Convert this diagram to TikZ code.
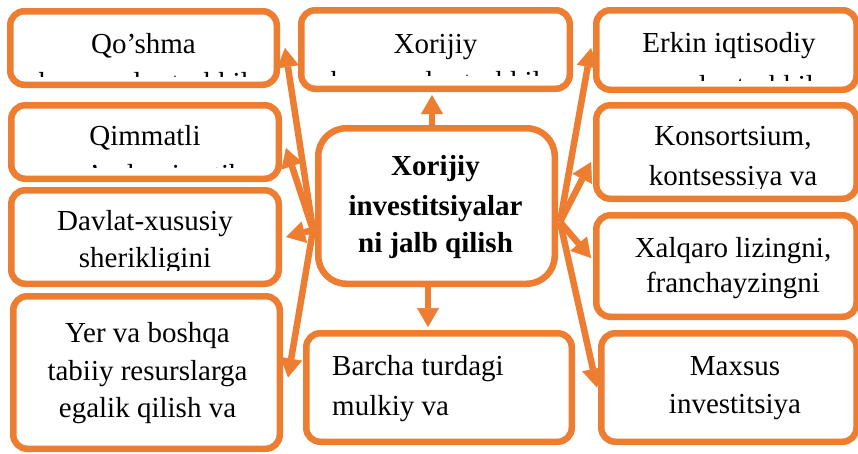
\documentclass[tikz,border=0pt]{standalone}
\usepackage{fontspec}
\setmainfont{Liberation Serif}
\usetikzlibrary{arrows.meta}
\definecolor{org}{RGB}{237,125,49}
\begin{document}
\begin{tikzpicture}[x=1pt,y=-1pt,
  box/.style={draw=org, line width=6.5pt, rounded corners=14pt, fill=white, inner sep=0pt},
  cbox/.style={box, rounded corners=28pt},
  txt/.style={inner sep=0pt, anchor=base, font=\fontsize{29}{38}\selectfont},
  btxt/.style={txt, font=\fontsize{29}{38}\selectfont\bfseries},
  arr/.style={draw=org, line width=6.5pt, -{Triangle[length=19pt,width=22pt,line width=0.5pt]}}]
\useasboundingbox (0,0) rectangle (858,453);
% boxes
\node[box, minimum width=266.5pt, minimum height=73.5pt] (A) at (143.5,48) {};
\node[box, minimum width=268.5pt, minimum height=78.5pt] (B) at (435.5,49.5) {};
\node[box, minimum width=260.25pt, minimum height=79.5pt] (C) at (726.4,50) {};
\node[box, minimum width=267.5pt, minimum height=73.5pt] (D) at (145,142) {};
\node[box, minimum width=267.5pt, minimum height=93.5pt] (E) at (145,237) {};
\node[box, minimum width=266.5pt, minimum height=152.5pt] (F) at (146.5,372.5) {};
\node[box, minimum width=265.5pt, minimum height=108.5pt] (G) at (439,387.5) {};
\node[cbox, minimum width=236.5pt, minimum height=155.5pt] (c) at (436.5,206) {};
\node[box, minimum width=260.25pt, minimum height=93.5pt] (H) at (726.4,152) {};
\node[box, minimum width=260.25pt, minimum height=101.5pt] (I) at (726.4,266) {};
\node[box, minimum width=255.25pt, minimum height=108.5pt] (J) at (728.9,387.5) {};
% texts
\begin{scope}
\clip (0,0) rectangle (300,76);
\node[txt] (a1) at (143.5,53) {Qo’shma};
\node[txt] (a2) at (143.5,92) {korxonalar tashkil};
\end{scope}
\begin{scope}
\clip (300,0) rectangle (580,75);
\node[txt] (b1) at (435.5,53) {Xorijiy};
\node[txt] (b2) at (435.5,91) {korxonalar tashkil};
\end{scope}
\begin{scope}
\clip (600,0) rectangle (858,80);
\node[txt] (c1) at (729,52) {Erkin iqtisodiy};
\node[txt] (c2) at (729,95) {zonalar tashkil};
\end{scope}
\begin{scope}
\clip (0,100) rectangle (300,167);
\node[txt] (d1) at (145,145) {Qimmatli};
\node[txt] (d2) at (145,184) {qog’ozlarni sotib};
\end{scope}
\begin{scope}
\clip (0,190) rectangle (300,270);
\node[txt] (e1) at (145,230) {Davlat-xususiy};
\node[txt] (e2) at (145,267) {sherikligini};
\end{scope}
\node[txt] (f1) at (147.5,342) {Yer va boshqa};
\node[txt] (f2) at (147.5,380) {tabiiy resurslarga};
\node[txt] (f3) at (147.5,417) {egalik qilish va};
\node[txt, anchor=base west] (g1) at (332,375) {Barcha turdagi};
\node[txt, anchor=base west] (g2) at (332,415) {mulkiy va};
\node[btxt] (m1) at (435.5,175) {Xorijiy};
\node[btxt] (m2) at (435.5,215) {investitsiyalar};
\node[btxt] (m3) at (435.5,252) {ni jalb qilish};
\begin{scope}
\clip (600,100) rectangle (858,188);
\node[txt] (h1) at (733,145) {Konsortsium,};
\node[txt] (h2) at (733,185) {kontsessiya va};
\end{scope}
\node[txt] (i1) at (733,257) {Xalqaro lizingni,};
\node[txt] (i2) at (733,292) {franchayzingni};
\node[txt] (j1) at (735,375) {Maxsus};
\node[txt] (j2) at (735,413) {investitsiya};
% connectors
\coordinate (cl) at ([xshift=-2pt,yshift=-24pt]c.west);
\coordinate (cr) at ([xshift=2pt,yshift=-16pt]c.east);
\draw[arr] ([xshift=-4.5pt]c.north) -- ([xshift=-3.5pt,yshift=-3pt]B.south);
\draw[arr] ([xshift=-8.5pt]c.south) -- ([xshift=-11pt,yshift=3pt]G.north);
\draw[arr] (cl) -- ([xshift=5pt]A.east);
\draw[arr] (cl) -- ([xshift=4pt,yshift=-6pt]D.east);
\draw[arr] (cl) -- ([xshift=4pt]E.east);
\draw[arr] (cl) -- ([xshift=5pt,yshift=-5pt]F.east);
\draw[arr] (cr) -- ([xshift=-2pt,yshift=2pt]C.west);
\draw[arr] (cr) -- ([xshift=-2pt,yshift=-10pt]H.west);
\draw[arr] (cr) -- ([xshift=-2pt,yshift=8pt]I.west);
\draw[arr] (cr) -- ([xshift=-1pt]J.west);
\end{tikzpicture}
\end{document}
